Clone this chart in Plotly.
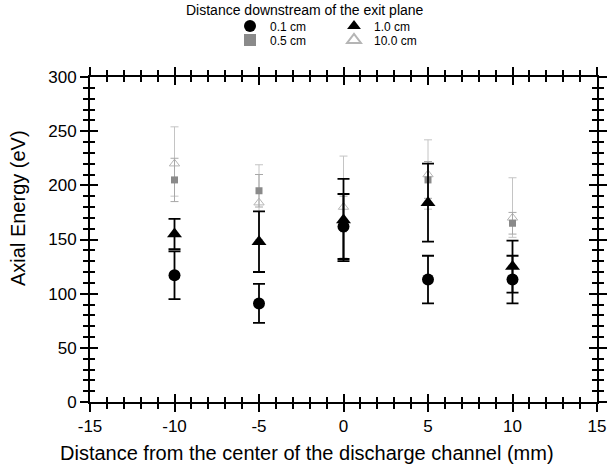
import plotly.graph_objects as go

# ---- data ----
x_pos = [-10, -5, 0, 5, 10]

e01 = [117, 91, 162, 113, 113]          # 0.1 cm
e01_err = [22, 18, 30, 22, 22]

e05 = [205, 195, 160, 205, 165]         # 0.5 cm
e05_err = [20, 15, 30, 17, 10]

e10 = [155, 148, 168, 184, 125]         # 1.0 cm
e10_err = [14, 28, 38, 36, 24]

e100 = [220, 184, 180, 210, 170]        # 10.0 cm
e100_plus = [34, 35, 47, 32, 37]
e100_minus = [30, 34, 47, 32, 18]

x_major = [-15, -10, -5, 0, 5, 10, 15]
x_labels = ["-15", "-10", "-5", "0", "5", "10", "15"]
y_major = [0, 50, 100, 150, 200, 250, 300]
y_labels = ["0", "50", "100", "150", "200", "250", "300"]

FONT = "Arial, Liberation Sans, Helvetica, sans-serif"

fig = go.Figure()

fig.add_trace(go.Scatter(
    x=x_pos, y=e100, mode="markers", name="10.0 cm",
    marker=dict(symbol="triangle-up-open", size=9, color="#b5b5b5", line=dict(width=1)),
    error_y=dict(type="data", symmetric=False, array=e100_plus, arrayminus=e100_minus,
                 color="#c4c4c4", thickness=1, width=4),
    legend="legend2", legendrank=2))

fig.add_trace(go.Scatter(
    x=x_pos, y=e05, mode="markers", name="0.5 cm",
    marker=dict(symbol="square", size=7, color="#8a8a8a"),
    error_y=dict(type="data", array=e05_err, color="#a8a8a8", thickness=1, width=4),
    legend="legend2", legendrank=1))

fig.add_trace(go.Scatter(
    x=x_pos, y=e10, mode="markers", name="1.0 cm",
    marker=dict(symbol="triangle-up", size=13, color="black"),
    error_y=dict(type="data", array=e10_err, color="black", thickness=1.8, width=6),
    legend="legend", legendrank=2))

fig.add_trace(go.Scatter(
    x=x_pos, y=e01, mode="markers", name="0.1 cm",
    marker=dict(symbol="circle", size=12, color="black"),
    error_y=dict(type="data", array=e01_err, color="black", thickness=1.8, width=6),
    legend="legend", legendrank=1))

# empty trace to activate the overlaid axes (inner halves of the crossing ticks)
fig.add_trace(go.Scatter(x=[], y=[], xaxis="x2", yaxis="y2", showlegend=False,
                         hoverinfo="skip"))

tick_common = dict(tickwidth=2, tickcolor="black", ticklen=8,
                   showgrid=False, zeroline=False, showline=True,
                   linecolor="black", linewidth=2, mirror="allticks")

leg_common = dict(orientation="h", xanchor="left", yanchor="middle",
                  entrywidth=59, entrywidthmode="pixels", bgcolor="rgba(0,0,0,0)",
                  font=dict(size=12), itemsizing="constant", tracegroupgap=0,
                  itemwidth=30)

PW = 609 - 90 - 12   # plot width in px
PH = 471 - 77 - 69   # plot height in px

fig.update_layout(
    width=609, height=471,
    margin=dict(l=90, r=12, t=77, b=69, autoexpand=False),
    paper_bgcolor="white", plot_bgcolor="white",
    font=dict(family=FONT, size=17, color="black"),
    xaxis=dict(range=[-15, 15], tickvals=x_major, ticktext=x_labels, ticks="outside",
               minor=dict(dtick=1, ticks="outside", ticklen=5, tickwidth=1.5, tickcolor="black"),
               tickfont=dict(size=17), **tick_common),
    yaxis=dict(range=[0, 300], tickvals=y_major, ticktext=y_labels, ticks="outside",
               minor=dict(dtick=10, ticks="outside", ticklen=5, tickwidth=1.5, tickcolor="black"),
               tickfont=dict(size=17), **tick_common),
    xaxis2=dict(overlaying="x", anchor="y2", range=[-15, 15], tickvals=x_major, ticks="inside",
                showticklabels=False,
                minor=dict(dtick=1, ticks="inside", ticklen=5, tickwidth=1.5, tickcolor="black"),
                **tick_common),
    yaxis2=dict(overlaying="y", anchor="x2", range=[0, 300], tickvals=y_major, ticks="inside",
                showticklabels=False,
                minor=dict(dtick=10, ticks="inside", ticklen=5, tickwidth=1.5, tickcolor="black"),
                **tick_common),
    legend=dict(x=(230 - 90) / PW, y=1 + (77 - 26) / PH, **leg_common),
    legend2=dict(x=(230 - 90) / PW, y=1 + (77 - 40) / PH, **leg_common),
    annotations=[
        dict(text="Distance downstream of the exit plane", x=(305 - 90) / PW,
             y=1 + (77 - 10) / PH, xref="paper", yref="paper", xanchor="center",
             yanchor="middle", showarrow=False, font=dict(size=14)),
        dict(text="Distance from the center of the discharge channel (mm)",
             x=(307 - 90) / PW, y=-(453 - 402) / PH, xref="paper", yref="paper",
             xanchor="center", yanchor="middle", showarrow=False, font=dict(size=20)),
        dict(text="Axial Energy (eV)", textangle=-90,
             x=-(90 - 18) / PW, y=(402 - 208) / PH, xref="paper", yref="paper",
             xanchor="center", yanchor="middle", showarrow=False, font=dict(size=20)),
    ],
)

fig.write_html("out.html")
